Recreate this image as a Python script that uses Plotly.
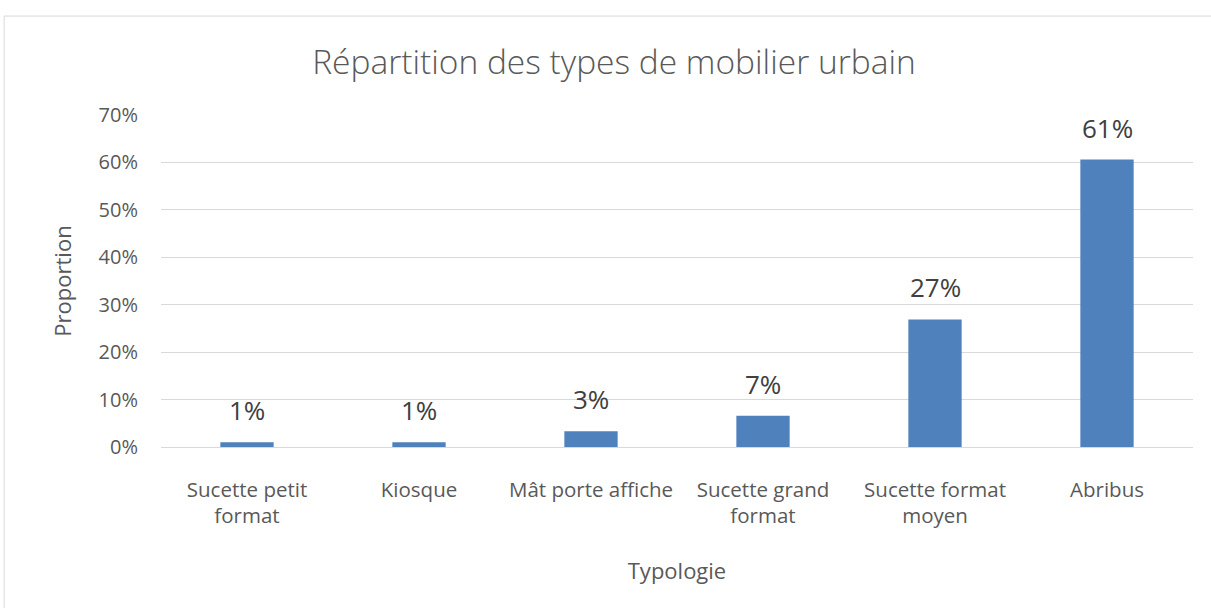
import plotly.graph_objects as go

# Répartition des types de mobilier urbain (proportions)
categories = [
    "Sucette petit<br>format",
    "Kiosque",
    "Mât porte affiche",
    "Sucette grand<br>format",
    "Sucette format<br>moyen",
    "Abribus",
]
proportions = [0.010, 0.010, 0.033, 0.066, 0.269, 0.606]
y_ticks = [0, 0.1, 0.2, 0.3, 0.4, 0.5, 0.6, 0.7]

FONT = "Open Sans"
TEXT_COLOR = "#595959"
BAR_COLOR = "#4f81bd"
GRID_COLOR = "#d9d9d9"

fig = go.Figure(
    go.Bar(
        x=categories,
        y=proportions,
        marker=dict(color=BAR_COLOR, line=dict(width=0)),
        width=0.31,
        hoverinfo="skip",
    )
)

# Value labels above each bar, derived from the same values
for cat, val in zip(categories, proportions):
    fig.add_annotation(
        x=cat, y=val, text=f"{val:.0%}",
        showarrow=False, yanchor="bottom", yshift=12,
        font=dict(family=FONT, size=26, color="#404040"),
    )

# Outer chart border
fig.add_shape(
    type="rect", xref="paper", yref="paper",
    x0=-0.152, x1=1.03, y0=-0.6, y1=1.298,
    line=dict(color="#d9d9d9", width=1), fillcolor="rgba(0,0,0,0)",
    layer="below",
)

fig.update_layout(
    width=1211, height=608,
    margin=dict(l=161, r=18, t=115, b=161),
    paper_bgcolor="white", plot_bgcolor="white",
    font=dict(family=FONT, color=TEXT_COLOR),
    title=dict(
        text="Répartition des types de mobilier urbain",
        x=0.507, xanchor="center", y=0.898, yanchor="middle",
        font=dict(family=FONT, size=33.5, weight=300, color=TEXT_COLOR),
    ),
    showlegend=False,
    bargap=0.69,
)

fig.update_xaxes(
    showgrid=False, showline=True, linecolor=GRID_COLOR, linewidth=1,
    ticks="", tickfont=dict(size=20.5, color=TEXT_COLOR),
    ticklabelstandoff=24,
    title=dict(text="Typologie", font=dict(size=22, color=TEXT_COLOR), standoff=35),
)

fig.update_yaxes(
    range=[0, 0.7], tickvals=y_ticks, tickformat=".0%",
    showgrid=True, gridcolor=GRID_COLOR, gridwidth=1,
    zeroline=False, showline=False, ticks="",
    tickfont=dict(size=20, color=TEXT_COLOR),
    ticklabelstandoff=22,
    title=dict(text="Proportion", font=dict(size=22, color=TEXT_COLOR), standoff=20),
)

fig.write_html("out.html")
